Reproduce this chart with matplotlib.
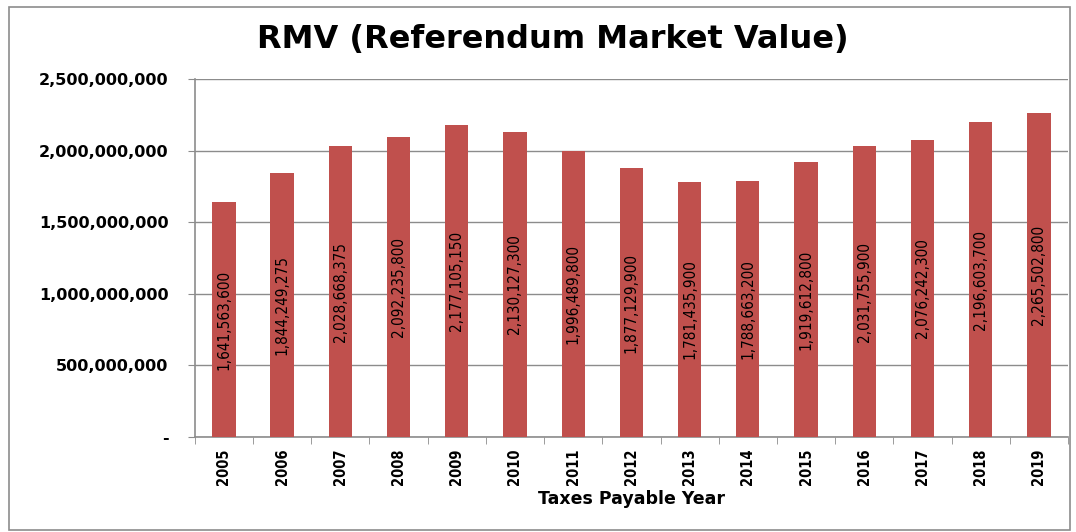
import matplotlib.pyplot as plt
import numpy as np
from matplotlib.patches import Rectangle
from matplotlib.ticker import FuncFormatter, FixedLocator

years = ['2005', '2006', '2007', '2008', '2009', '2010', '2011', '2012',
         '2013', '2014', '2015', '2016', '2017', '2018', '2019']
rmv = [1641563600, 1844249275, 2028668375, 2092235800, 2177105150,
       2130127300, 1996489800, 1877129900, 1781435900, 1788663200,
       1919612800, 2031755900, 2076242300, 2196603700, 2265502800]
y_ticks = [0, 500000000, 1000000000, 1500000000, 2000000000, 2500000000]

bar_color = '#C0504D'
grid_color = '#8C8C8C'

fig = plt.figure(figsize=(10.76, 5.32), dpi=100)
fig.patches.append(Rectangle((9 / 1076, 2 / 532), 1061 / 1076, 523 / 532,
                             transform=fig.transFigure, fill=False,
                             edgecolor='#8C8C8C', linewidth=1.2))

ax = fig.add_axes([0.181, 0.1786, 0.8116, 0.6729])
x = np.arange(len(years))
ax.bar(x, rmv, width=0.4, color=bar_color, zorder=3)

# value labels inside the bars, rotated
for xi, v in zip(x, rmv):
    ax.text(xi, v / 2, f'{v:,}', rotation=90, ha='center', va='center',
            fontsize=11, family='DejaVu Sans', fontstretch='condensed',
            color='black', zorder=4)

ax.set_xlim(-0.5, len(years) - 0.5)
ax.set_ylim(0, 2500000000)
ax.yaxis.set_major_locator(FixedLocator(y_ticks))
ax.yaxis.set_major_formatter(FuncFormatter(lambda v, p: '-' if v == 0 else f'{v:,.0f}'))
ax.grid(axis='y', color=grid_color, linewidth=1, zorder=0)

ax.set_xticks(x)
ax.set_xticklabels(years, rotation=90, fontweight='bold', fontsize=10.5,
                   fontstretch='condensed')
ax.tick_params(axis='x', which='major', length=0, pad=8)
ax.set_xticks(np.arange(-0.5, len(years)), minor=True)
ax.tick_params(axis='x', which='minor', length=5, color=grid_color)
ax.tick_params(axis='y', length=5, color=grid_color, labelsize=11.5, pad=14)
for lbl in ax.get_yticklabels():
    lbl.set_fontweight('bold')

for side in ['top', 'right']:
    ax.spines[side].set_visible(False)
for side in ['left', 'bottom']:
    ax.spines[side].set_color(grid_color)
    ax.spines[side].set_linewidth(1.2)

ax.set_xlabel('Taxes Payable Year', fontweight='bold', fontsize=12.5, labelpad=4)
fig.text(0.514, 0.925, 'RMV (Referendum Market Value)', ha='center', va='center',
         fontsize=23, fontweight='bold')

fig.savefig('out.png', dpi=100)
